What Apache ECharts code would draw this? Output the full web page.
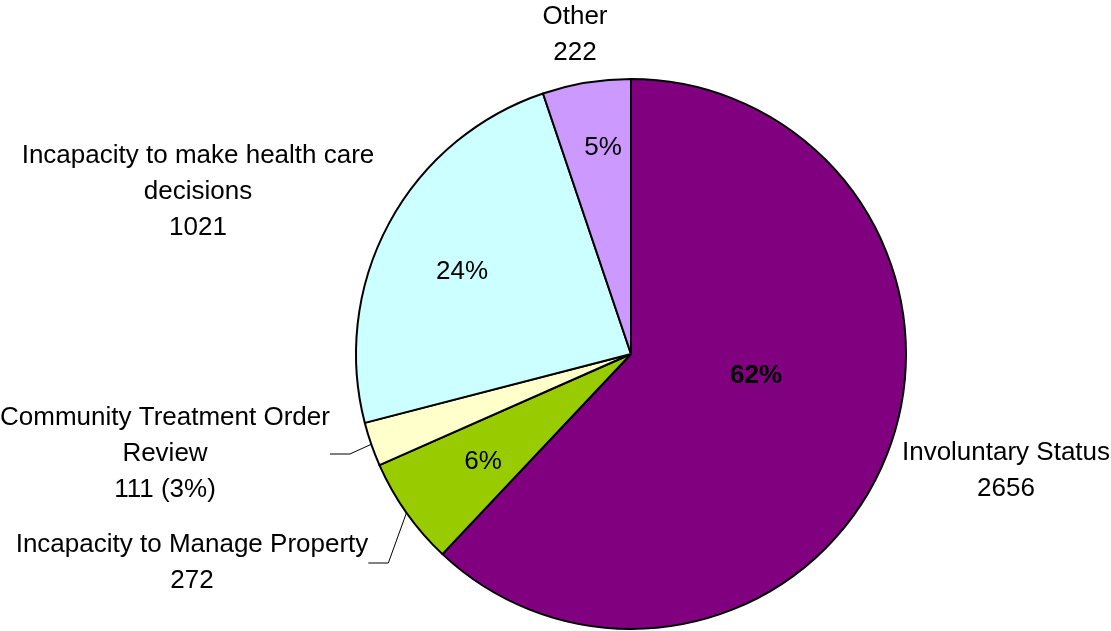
<!DOCTYPE html>
<html>
<head>
<meta charset="utf-8">
<style>
  html, body { margin: 0; padding: 0; background: #fff; }
  #chart { width: 1111px; height: 631px; }
</style>
<script src="https://cdn.jsdelivr.net/npm/echarts@6/dist/echarts.min.js"></script>
</head>
<body>
<div id="chart"></div>
<script>
// 数据
var categories = [
  'Involuntary Status',
  'Incapacity to Manage Property',
  'Community Treatment Order Review',
  'Incapacity to make health care decisions',
  'Other'
];
var values = [2656, 272, 111, 1021, 222];
var colors = ['#800080', '#99CC00', '#FFFFCC', '#CCFFFF', '#CC99FF'];
// 外部标签的换行文字
var outerText = [
  'Involuntary Status',
  'Incapacity to Manage Property',
  'Community Treatment Order\nReview',
  'Incapacity to make health care\ndecisions',
  'Other'
];

var total = values.reduce(function (a, b) { return a + b; }, 0);
var pct = values.map(function (v) { return Math.round(v / total * 100); });

var myChart = echarts.init(document.getElementById('chart'));

// 标签位置
var innerPos = [[756, 376], [483, 462], null, [462, 272], [603, 148]];
var outerPos = [[1006, 471], [192, 563], [165, 454], [198, 192], [575, 35]];

var pieData = categories.map(function (name, i) {
  return {
    name: name,
    value: values[i],
    itemStyle: { color: colors[i] },
    label: {
      show: innerPos[i] != null,
      fontWeight: i === 0 ? 'bold' : 'normal'
    }
  };
});

var outerData = categories.map(function (name, i) {
  return {
    name: name,
    value: values[i],
    labelLine: { show: i === 1 || i === 2 }
  };
});

var font = 'Liberation Sans, Arial, sans-serif';

var option = {
  animation: false,
  backgroundColor: '#fff',
  series: [
    {
      type: 'pie',
      center: [631, 354],
      radius: 275,
      startAngle: 90,
      clockwise: true,
      data: pieData,
      itemStyle: { borderColor: '#000', borderWidth: 2 },
      emphasis: { disabled: true },
      label: {
        position: 'inside',
        color: '#000',
        fontSize: 26,
        fontFamily: font,
        formatter: function (p) { return pct[p.dataIndex] + '%'; }
      },
      labelLayout: function (p) {
        var pos = innerPos[p.dataIndex];
        if (!pos) return {};
        return { x: pos[0], y: pos[1], align: 'center', verticalAlign: 'middle' };
      },
      labelLine: { show: false }
    },
    {
      type: 'pie',
      center: [631, 354],
      radius: 275,
      startAngle: 90,
      clockwise: true,
      silent: true,
      data: outerData,
      itemStyle: { color: 'rgba(0,0,0,0)', borderWidth: 0 },
      emphasis: { disabled: true },
      label: {
        show: true,
        position: 'outside',
        color: '#000',
        fontSize: 26,
        lineHeight: 36,
        align: 'center',
        overflow: 'none',
        fontFamily: font,
        formatter: function (p) {
          var i = p.dataIndex;
          if (i === 2) return outerText[i] + '\n' + values[i] + ' (' + pct[i] + '%)';
          return outerText[i] + '\n' + values[i];
        }
      },
      labelLine: {
        length: 10,
        length2: 20,
        lineStyle: { color: '#000', width: 1 }
      },
      labelLayout: function (p) {
        var pos = outerPos[p.dataIndex];
        return { x: pos[0], y: pos[1], align: 'center', verticalAlign: 'middle' };
      }
    }
  ]
};

myChart.setOption(option);
</script>
</body>
</html>
